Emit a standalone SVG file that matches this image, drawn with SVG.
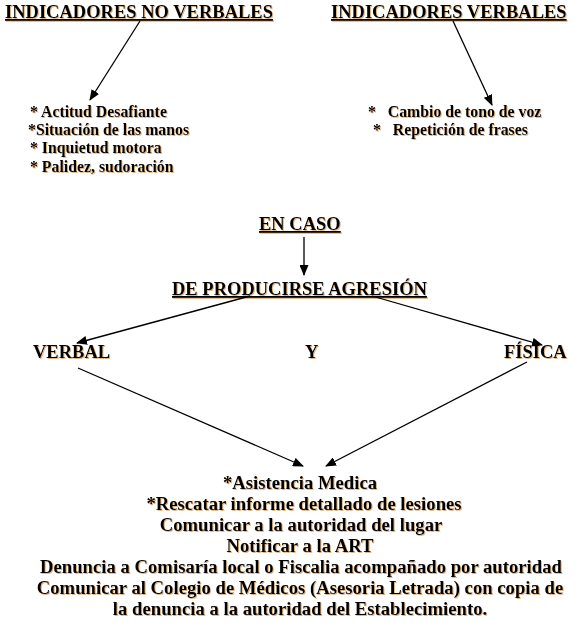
<svg xmlns="http://www.w3.org/2000/svg" width="577" height="627" viewBox="0 0 577 627">
<defs>
<style>
text{font-family:"Liberation Serif","Times New Roman",serif;font-weight:bold;fill:#000;filter:url(#sh);white-space:pre}
.h{font-size:18.5px;text-decoration:underline}
.l{font-size:15.8px}
.n{font-size:18.5px}
.b{font-size:18.7px;text-anchor:middle}
.c line{stroke:#000;stroke-width:1.3;marker-end:url(#ah)}
</style>
<filter id="sh" x="-5%" y="-20%" width="110%" height="140%">
<feDropShadow dx="1" dy="1" stdDeviation="0.3" flood-color="#b06010" flood-opacity="0.45"/>
</filter>
<marker id="ah" markerUnits="userSpaceOnUse" markerWidth="11" markerHeight="9" refX="10" refY="4.5" orient="auto">
<path d="M0,0 L11,4.5 L0,9 z" fill="#000"/>
</marker>
</defs>
<rect width="577" height="627" fill="#fff"/>
<g id="no-verbales"><text class="h" x="5" y="18">INDICADORES NO VERBALES</text></g>
<g id="verbales"><text class="h" x="331" y="18">INDICADORES VERBALES</text></g>
<g id="lista-no-verbales">
<text class="l" x="30" y="117">* Actitud Desafiante</text>
<text class="l" x="28" y="135">*Situación de las manos</text>
<text class="l" x="30" y="153">* Inquietud motora</text>
<text class="l" x="30" y="172">* Palidez, sudoración</text>
</g>
<g id="lista-verbales">
<text class="l" x="368" y="117">*   Cambio de tono de voz</text>
<text class="l" x="373" y="135">*   Repetición de frases</text>
</g>
<g id="en-caso"><text class="h" x="259" y="230">EN CASO</text></g>
<g id="agresion"><text class="h" x="172" y="295">DE PRODUCIRSE AGRESIÓN</text></g>
<g id="verbal"><text class="n" x="33" y="358">VERBAL</text></g>
<g id="y"><text class="n" x="305" y="358">Y</text></g>
<g id="fisica"><text class="n" x="504" y="358">FÍSICA</text></g>
<g id="acciones">
<text class="b" x="300" y="489">*Asistencia Medica</text>
<text class="b" x="304" y="510">*Rescatar informe detallado de lesiones</text>
<text class="b" x="301" y="531">Comunicar a la autoridad del lugar</text>
<text class="b" x="300" y="552">Notificar a la ART</text>
<text class="b" x="301" y="573">Denuncia a Comisaría local o Fiscalia acompañado por autoridad</text>
<text class="b" x="300" y="594">Comunicar al Colegio de Médicos (Asesoria Letrada) con copia de</text>
<text class="b" x="300" y="615">la denuncia a la autoridad del Establecimiento.</text>
</g>
<g id="connectors" class="c">
<line x1="140" y1="21" x2="90" y2="100"/>
<line x1="453" y1="21" x2="492" y2="105"/>
<line x1="304" y1="237" x2="304" y2="275"/>
<line x1="250" y1="296" x2="77" y2="343"/>
<line x1="372" y1="296" x2="542" y2="345"/>
<line x1="78" y1="368" x2="303" y2="466"/>
<line x1="527" y1="362" x2="326" y2="466"/>
</g>
</svg>
